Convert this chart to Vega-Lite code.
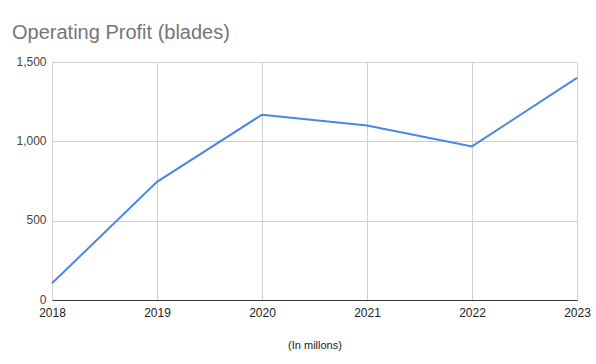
{
  "$schema": "https://vega.github.io/schema/vega-lite/v6.json",
  "autosize": "none",
  "width": 525,
  "height": 238,
  "padding": {"left": 52, "top": 62, "right": 19, "bottom": 64},
  "background": "white",
  "title": {
    "text": "Operating Profit (blades)",
    "anchor": "start",
    "frame": "group",
    "dx": -40,
    "offset": 12,
    "font": "Liberation Sans",
    "fontSize": 20,
    "fontWeight": "normal",
    "color": "#757575"
  },
  "data": {
    "values": [
      {"year": 2018, "profit": 105},
      {"year": 2019, "profit": 745},
      {"year": 2020, "profit": 1168},
      {"year": 2021, "profit": 1100},
      {"year": 2022, "profit": 968},
      {"year": 2023, "profit": 1400}
    ]
  },
  "config": {
    "view": {"stroke": null},
    "axis": {"labelFont": "Liberation Sans", "titleFont": "Liberation Sans"}
  },
  "mark": {"type": "line", "color": "#4a86e8", "strokeWidth": 2},
  "encoding": {
    "x": {
      "field": "year",
      "type": "quantitative",
      "scale": {"domain": [2018, 2023], "nice": false, "zero": false},
      "axis": {
        "values": [2018, 2019, 2020, 2021, 2022, 2023],
        "format": "d",
        "title": "(In millons)",
        "titleFontSize": 11,
        "titleFontWeight": "normal",
        "titleColor": "#222",
        "titlePadding": 21,
        "labelFontSize": 12,
        "labelColor": "#222",
        "labelPadding": 7,
        "ticks": false,
        "domainColor": "#333",
        "domainWidth": 1,
        "gridColor": "#d0d0d0",
        "labelFlush": false
      }
    },
    "y": {
      "field": "profit",
      "type": "quantitative",
      "scale": {"domain": [0, 1500], "nice": false},
      "axis": {
        "values": [0, 500, 1000, 1500],
        "format": ",d",
        "title": null,
        "domain": false,
        "ticks": false,
        "labelFontSize": 12,
        "labelColor": "#444",
        "labelPadding": 6,
        "labelBaseline": "middle",
        "labelOffset": -1,
        "gridColor": "#d0d0d0"
      }
    }
  }
}
